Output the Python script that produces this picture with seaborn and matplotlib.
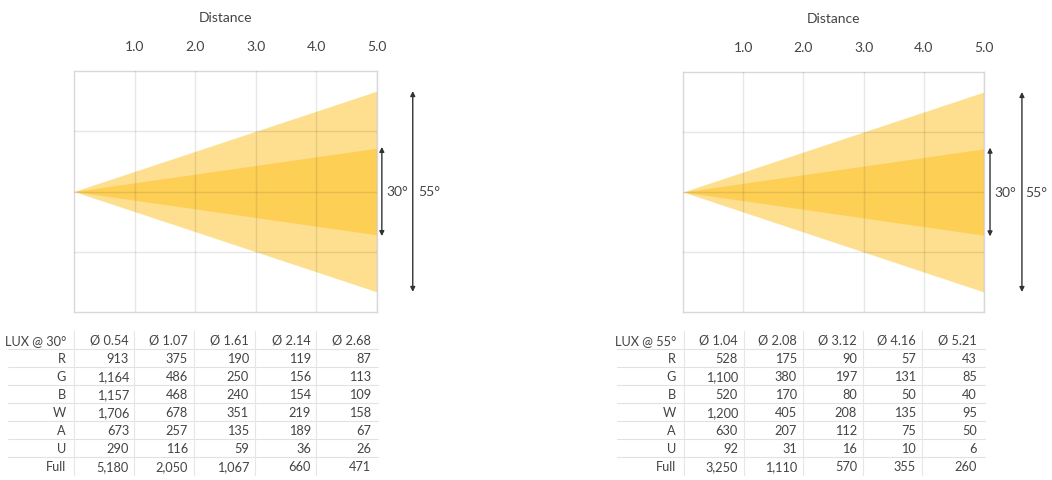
import matplotlib
matplotlib.use("Agg")
import matplotlib.pyplot as plt
import seaborn as sns
import numpy as np
import pandas as pd

# ---------------- data ----------------
distances = [1.0, 2.0, 3.0, 4.0, 5.0]
row_labels = ["R", "G", "B", "W", "A", "U", "Full"]

diam_30 = [0.54, 1.07, 1.61, 2.14, 2.68]
lux_30_R = [913, 375, 190, 119, 87]
lux_30_G = [1164, 486, 250, 156, 113]
lux_30_B = [1157, 468, 240, 154, 109]
lux_30_W = [1706, 678, 351, 219, 158]
lux_30_A = [673, 257, 135, 189, 67]
lux_30_U = [290, 116, 59, 36, 26]
lux_30_Full = [5180, 2050, 1067, 660, 471]

diam_55 = [1.04, 2.08, 3.12, 4.16, 5.21]
lux_55_R = [528, 175, 90, 57, 43]
lux_55_G = [1100, 380, 197, 131, 85]
lux_55_B = [520, 170, 80, 50, 40]
lux_55_W = [1200, 405, 208, 135, 95]
lux_55_A = [630, 207, 112, 75, 50]
lux_55_U = [92, 31, 16, 10, 6]
lux_55_Full = [3250, 1110, 570, 355, 260]

# beam half-spread (diagram units) at the far end
outer_half = 5 / 3
inner_half = 0.72

# ---------------- style ----------------
sns.set_theme(style="white")
plt.rcParams["font.family"] = ["Lato", "DejaVu Sans"]

TXT = "#444444"
OUTER = "#FDDF8F"
INNER = "#FDCF55"

W, H = 1052, 481
fig = plt.figure(figsize=(W / 100, H / 100), dpi=100)


def beam_axes(left_px, right_px, top_px, bottom_px):
    ax = fig.add_axes([left_px / W, 1 - bottom_px / H,
                       (right_px - left_px) / W, (bottom_px - top_px) / H])
    xs = np.array([0.0, distances[-1]])
    ax.fill_between(xs, -outer_half * xs / 5, outer_half * xs / 5,
                    color=OUTER, lw=0, zorder=1)
    ax.fill_between(xs, -inner_half * xs / 5, inner_half * xs / 5,
                    color=INNER, lw=0, zorder=2)
    ax.set_xlim(0, 5)
    ax.set_ylim(-2, 2)
    ax.set_xticks(distances)
    ax.set_xticklabels([f"{d:.1f}" for d in distances])
    ax.set_yticks([-1, 0, 1])
    ax.set_yticklabels([])
    ax.xaxis.tick_top()
    ax.tick_params(axis="x", length=0, pad=14, labelsize=10, labelcolor=TXT)
    ax.tick_params(axis="y", length=0)
    ax.set_xlabel("Distance", fontsize=10, color=TXT, labelpad=13)
    ax.xaxis.set_label_position("top")
    ax.grid(True, color="black", alpha=0.09, lw=1)
    ax.set_axisbelow(False)
    for sp in ax.spines.values():
        sp.set_color("#d8d8d8")
        sp.set_linewidth(1)
    for l in ax.get_xgridlines() + ax.get_ygridlines():
        l.set_zorder(3)
    return ax


def arrows(ax, x30, x55, t30, t55):
    ap = dict(arrowstyle="<|-|>", color="#333333", lw=1,
              mutation_scale=7, shrinkA=0, shrinkB=0)
    ax.annotate("", xy=(x30, inner_half + 0.02), xytext=(x30, -inner_half - 0.02),
                arrowprops=ap, annotation_clip=False)
    ax.annotate("", xy=(x55, outer_half), xytext=(x55, -outer_half),
                arrowprops=ap, annotation_clip=False)
    ax.text(t30, 0, "30°", ha="center", va="center", fontsize=10,
            color=TXT, clip_on=False)
    ax.text(t55, 0, "55°", ha="center", va="center", fontsize=10,
            color=TXT, clip_on=False)


axL = beam_axes(74, 377, 72, 313)
arrows(axL, 5.08, 5.59, 5.34, 5.86)
axR = beam_axes(683, 984, 73, 313)
arrows(axR, 5.10, 5.63, 5.35, 5.87)

# ---------------- tables ----------------
ov = fig.add_axes([0, 0, 1, 1])
ov.set_xlim(0, W)
ov.set_ylim(H, 0)
ov.axis("off")

row_y = [341 + 18 * i for i in range(8)]


def fmt(v):
    return f"{v:,}"


def draw_table(title, diams, rows, label_right, data_right, seps, x0, x1):
    df = pd.DataFrame(rows, index=row_labels)
    fs = 9.2
    ov.text(label_right, row_y[0], title, ha="right", va="center",
            fontsize=fs, color=TXT)
    for j, d in enumerate(diams):
        ov.text(data_right[j], row_y[0], f"Ø {d:.2f}", ha="right", va="center",
                fontsize=fs, color=TXT)
    for i, lab in enumerate(df.index):
        y = row_y[i + 1]
        ov.text(label_right, y, lab, ha="right", va="center", fontsize=fs, color=TXT)
        for j, v in enumerate(df.loc[lab].values):
            ov.text(data_right[j], y, fmt(int(v)), ha="right", va="center",
                    fontsize=fs, color=TXT)
    for i in range(len(row_y) - 1):
        yl = (row_y[i] + row_y[i + 1]) / 2
        ov.plot([x0, x1], [yl, yl], color="#e2e2e2", lw=0.8)
    for s in seps:
        ov.plot([s, s], [332, 476], color="#e6e6e6", lw=0.8)


draw_table("LUX @ 30°", diam_30,
           [lux_30_R, lux_30_G, lux_30_B, lux_30_W, lux_30_A, lux_30_U, lux_30_Full],
           66, [129, 188, 249, 311, 371], [74, 134, 194, 255, 316], 8, 378)
draw_table("LUX @ 55°", diam_55,
           [lux_55_R, lux_55_G, lux_55_B, lux_55_W, lux_55_A, lux_55_U, lux_55_Full],
           676, [738, 797, 857, 916, 977], [684, 744, 803, 863, 922], 617, 985)

fig.savefig("out.png", dpi=100)
